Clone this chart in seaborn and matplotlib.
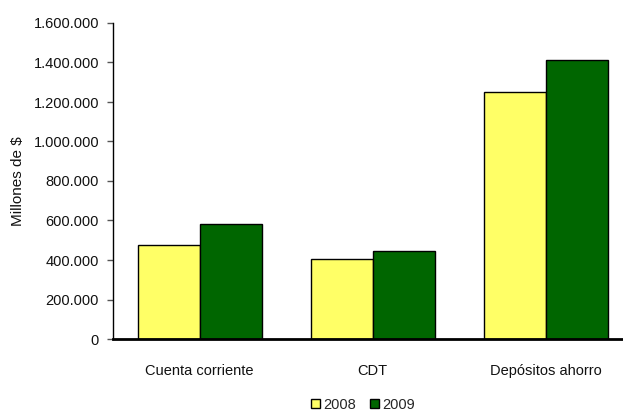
import matplotlib
matplotlib.use("Agg")
import matplotlib.pyplot as plt
import pandas as pd
import seaborn as sns
from matplotlib.ticker import FuncFormatter

categorias = ["Cuenta corriente", "CDT", "Depósitos ahorro"]
anios = ["2008", "2009"]
valores_2008 = [476000, 405000, 1249000]
valores_2009 = [582000, 447000, 1411000]

df = pd.DataFrame(
    {
        "categoria": categorias * 2,
        "anio": [anios[0]] * 3 + [anios[1]] * 3,
        "valor": valores_2008 + valores_2009,
    }
)

sns.set_theme(style="white")
plt.rcParams["font.family"] = ["Liberation Sans", "DejaVu Sans"]

fig = plt.figure(figsize=(6.23, 4.11), dpi=100)
ax = fig.add_axes([113 / 623, 72 / 411, 510 / 623, 316 / 411])

sns.barplot(
    data=df,
    x="categoria",
    y="valor",
    hue="anio",
    palette=["#FFFF66", "#006600"],
    width=0.717,
    edgecolor="black",
    linewidth=1,
    saturation=1,
    ax=ax,
)

ax.set_ylim(0, 1600000)
ax.set_xlim(-0.5, 2.445)
ax.set_yticks(range(0, 1600001, 200000))
ax.yaxis.set_major_formatter(
    FuncFormatter(lambda v, p: f"{int(v):,}".replace(",", "."))
)
ax.set_xlabel("")
ax.set_ylabel("Millones de $", fontsize=11, labelpad=6, color="#111111")

for s in ["top", "right"]:
    ax.spines[s].set_visible(False)
ax.spines["left"].set_color("black")
ax.spines["left"].set_linewidth(1)
ax.spines["bottom"].set_color("black")
ax.spines["bottom"].set_linewidth(2)

ax.tick_params(axis="y", which="major", left=True, direction="out", length=4,
               width=1, color="#555555", labelsize=10.5, pad=6,
               labelcolor="#111111")
ax.tick_params(axis="x", bottom=False, labelsize=10.5, pad=12,
               labelcolor="#111111")

ax.legend(
    loc="center",
    bbox_to_anchor=(363 / 623, 6 / 411),
    bbox_transform=fig.transFigure,
    ncol=2,
    frameon=False,
    fontsize=10.5,
    handlelength=0.6,
    handleheight=0.6,
    handletextpad=0.2,
    columnspacing=1.0,
    borderpad=0,
)

fig.savefig("out.png", dpi=100)
